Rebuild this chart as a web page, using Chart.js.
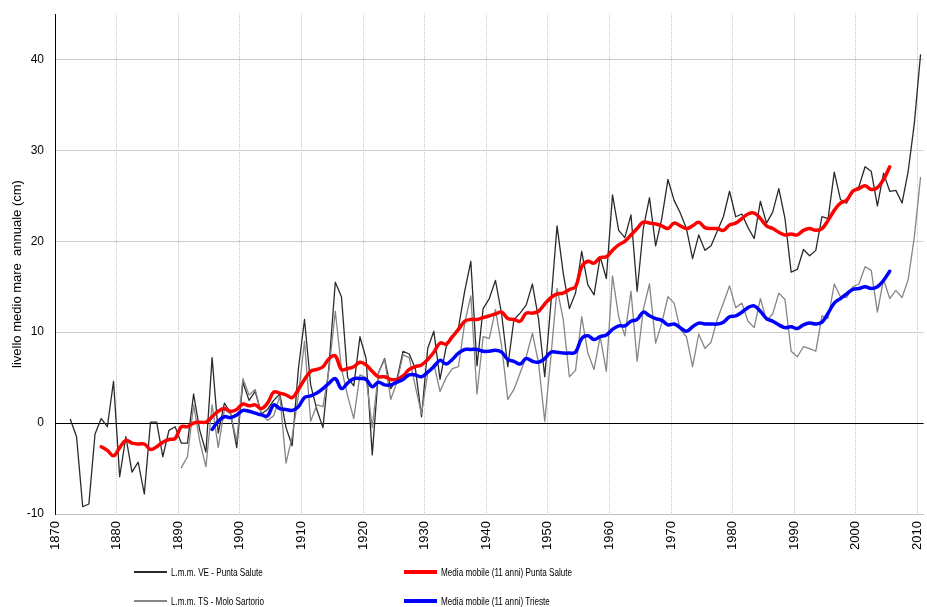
<!DOCTYPE html>
<html>
<head>
<meta charset="utf-8">
<script src="https://cdn.jsdelivr.net/npm/chart.js@4.4.1/dist/chart.umd.min.js"></script>
<style>
  body { margin: 0; background: #fff; font-family: "Liberation Sans", Arial, sans-serif; }
  #wrap { position: relative; width: 927px; height: 607px; }
  #chart { position: absolute; left: 0; top: 0; }
  .leg { position: absolute; height: 0; }
  .leg .ln { position: absolute; left: 0; width: 33px; }
  .leg .tx { position: absolute; left: 37px; top: -7px; font-size: 11px; line-height: 14px; color: #000;
             white-space: nowrap; transform: scaleX(0.74); transform-origin: left center; }
</style>
</head>
<body>
<div id="wrap">
  <canvas id="chart" width="927" height="607"></canvas>
  <div id="legend"></div>
</div>
<script>
// livello medio mare annuale (cm)
const veStart = 1872; // L.m.m. VE - Punta Salute
const veValues = [
  0.4, -1.5, -9.2, -8.9, -1.2, 0.5, -0.4, 4.6,                   // 1872-1879
  -5.9, -1.5, -5.4, -4.3, -7.8, 0.1, 0.1, -3.7, -0.8, -0.4,       // 1880s
  -2.2, -2.2, 3.2, -0.8, -3.2, 7.2, -1.1, 2.2, 1.1, -2.7,         // 1890s
  4.5, 2.5, 3.5, 1.0, 1.5, 2.5, 3.2, -0.5, -2.5, 5.9,             // 1900s
  11.4, 4.2, 1.5, -0.5, 6.5, 15.5, 13.9, 5.0, 4.1, 9.5,           // 1910s
  7.1, -3.5, 5.5, 7.1, 3.8, 4.8, 7.9, 7.6, 6.0, 0.7,              // 1920s
  8.2, 10.1, 4.8, 8.4, 9.5, 10.5, 14.5, 17.8, 6.3, 12.6,          // 1930s
  13.7, 15.7, 12.0, 6.2, 11.4, 12.1, 13.0, 15.3, 11.4, 5.1,       // 1940s
  13.2, 21.7, 16.5, 12.6, 14.3, 18.9, 15.2, 14.1, 18.3, 15.9,     // 1950s
  25.1, 21.2, 20.4, 22.9, 14.5, 21.4, 24.8, 19.5, 22.5, 26.8,     // 1960s
  24.5, 23.1, 21.4, 18.1, 20.7, 19.0, 19.5, 21.1, 22.7, 25.5,     // 1970s
  22.7, 23.0, 21.5, 20.3, 24.4, 22.0, 23.2, 25.8, 22.5, 16.6,     // 1980s
  16.9, 19.1, 18.4, 19.0, 22.7, 22.5, 27.6, 24.6, 24.2, 25.6,     // 1990s
  26.0, 28.2, 27.7, 23.9, 27.5, 25.5, 25.6, 24.2, 27.7, 33.0,     // 2000s
  40.5                                                            // 2010
];

const tsStart = 1890; // L.m.m. TS - Molo Sartorio
const tsValues = [
  -4.9, -3.7, 2.0, -2.0, -4.8, 2.0, -2.7, 1.5, 1.0, -2.0,         // 1890s
  4.9, 3.1, 3.7, 1.0, 0.3, 0.8, 3.0, -4.4, -1.5, 3.0,             // 1900s
  9.0, 0.2, 2.0, 1.8, 6.0, 12.3, 6.0, 3.0, 0.5, 5.3,              // 1910s
  5.0, -0.5, 5.5, 7.0, 2.6, 4.5, 7.5, 7.2, 4.0, 1.0,              // 1920s
  5.5, 6.5, 3.5, 5.0, 6.0, 6.2, 11.0, 14.0, 3.2, 9.5,             // 1930s
  9.3, 12.5, 8.5, 2.6, 3.7, 5.5, 7.3, 9.9, 6.6, 0.2,              // 1940s
  7.3, 14.8, 11.4, 5.1, 5.8, 11.7, 7.7, 5.9, 9.5, 5.7,            // 1950s
  16.2, 11.7, 9.6, 14.5, 6.8, 12.5, 15.3, 8.8, 11.0, 13.9,        // 1960s
  13.2, 10.3, 9.5, 6.2, 9.8, 8.2, 8.9, 11.4, 13.2, 15.1,          // 1970s
  12.7, 13.2, 11.2, 10.5, 13.7, 11.3, 12.0, 14.3, 13.6, 7.9,      // 1980s
  7.3, 8.4, 8.2, 7.9, 11.8, 11.5, 15.3, 13.9, 13.8, 15.0,         // 1990s
  15.3, 17.2, 16.8, 12.2, 15.8, 13.7, 14.6, 13.8, 15.8, 20.5,     // 2000s
  27.0                                                            // 2010
];

const maVeStart = 1877; // Media mobile (11 anni) Punta Salute
const maVeValues = [
  -2.6, -3.0, -3.6,                                               // 1877-1879
  -2.7, -1.9, -2.2, -2.3, -2.3, -2.9, -2.6, -2.1, -1.8, -1.7,     // 1880s
  -0.4, -0.4, 0.0, 0.1, 0.1, 0.7, 1.3, 1.6, 1.3, 1.5,             // 1890s
  2.1, 1.9, 2.0, 1.6, 2.2, 3.4, 3.3, 3.1, 2.8, 3.7,               // 1900s
  4.8, 5.7, 5.9, 6.2, 7.1, 7.4, 5.9, 6.0, 6.2, 6.7,               // 1910s
  6.4, 5.7, 5.1, 5.1, 4.8, 4.8, 5.2, 5.9, 6.2, 6.4,               // 1920s
  7.0, 7.8, 8.8, 8.7, 9.5, 10.3, 11.2, 11.4, 11.4, 11.6,          // 1930s
  11.8, 12.0, 12.2, 11.5, 11.4, 11.2, 12.1, 12.1, 12.3, 13.1,     // 1940s
  13.8, 14.2, 14.3, 14.7, 15.0, 17.2, 17.8, 17.6, 18.2, 18.3,     // 1950s
  19.0, 19.6, 20.0, 20.7, 21.4, 22.1, 22.0, 21.9, 21.7, 21.4,     // 1960s
  22.0, 21.7, 21.4, 21.7, 22.1, 21.5, 21.4, 21.4, 21.2, 21.8,     // 1970s
  22.0, 22.5, 23.0, 23.1, 22.5, 21.7, 21.4, 21.0, 20.7, 20.8,     // 1980s
  20.7, 21.2, 21.4, 21.2, 21.4, 22.3, 23.4, 24.2, 24.5, 25.5,     // 1990s
  25.8, 26.1, 25.7, 25.9, 26.8, 28.2                              // 2000-2005
];

const maTsStart = 1895; // Media mobile (11 anni) Trieste
const maTsValues = [
  -0.7, 0.2, 0.7, 0.6, 0.9,                                       // 1895-1899
  1.4, 1.3, 1.1, 0.9, 0.8, 2.0, 1.6, 1.5, 1.4, 1.8,               // 1900s
  2.8, 3.0, 3.3, 3.8, 4.4, 4.9, 3.8, 4.4, 4.9, 4.9,               // 1910s
  4.8, 4.0, 4.5, 4.2, 4.2, 4.5, 4.8, 5.3, 5.3, 5.1,               // 1920s
  5.6, 6.2, 6.9, 6.5, 7.0, 7.7, 8.1, 8.1, 8.1, 7.9,               // 1930s
  7.9, 8.0, 7.8, 7.0, 6.8, 6.5, 7.1, 6.8, 6.7, 7.1,               // 1940s
  7.8, 7.8, 7.7, 7.7, 7.8, 9.3, 9.6, 9.2, 9.5, 9.7,               // 1950s
  10.3, 10.7, 10.7, 11.2, 11.4, 12.2, 11.8, 11.5, 11.3, 10.8,     // 1960s
  10.9, 10.5, 10.1, 10.6, 11.0, 10.9, 10.9, 10.9, 11.1, 11.7,     // 1970s
  11.8, 12.2, 12.7, 12.9, 12.3, 11.5, 11.2, 10.8, 10.5, 10.6,     // 1980s
  10.4, 10.8, 11.0, 10.9, 11.1, 12.1, 13.2, 13.7, 14.2, 14.7,     // 1990s
  14.8, 15.0, 14.8, 15.0, 15.7, 16.7                              // 2000-2005
];

const yearTicks = [1870, 1880, 1890, 1900, 1910, 1920, 1930, 1940, 1950, 1960, 1970, 1980, 1990, 2000, 2010];
const valueTicks = [-10, 0, 10, 20, 30, 40];

const labels = {
  ve: 'L.m.m. VE - Punta Salute',
  ts: 'L.m.m. TS - Molo Sartorio',
  maVe: 'Media mobile (11 anni) Punta Salute',
  maTs: 'Media mobile (11 anni) Trieste'
};
const yTitle = 'livello medio mare  annuale (cm)';

function toPoints(start, values) {
  return values.map((v, i) => ({ x: start + i, y: v }));
}

const FONT = '"Liberation Sans", Arial, sans-serif';

// y title drawn by hand: the original sits a little below the axis centre
const yTitlePlugin = {
  id: 'yTitle',
  afterDraw(c) {
    const ctx = c.ctx;
    ctx.save();
    ctx.translate(17, (c.chartArea.top + c.chartArea.bottom) / 2 + 10);
    ctx.rotate(-Math.PI / 2);
    ctx.font = '13px ' + FONT;
    ctx.fillStyle = '#000';
    ctx.textAlign = 'center';
    ctx.textBaseline = 'middle';
    ctx.fillText(yTitle, 0, 0);
    ctx.restore();
  }
};

// years sit in the middle of each category slot, gridlines on the slot edges
const chart = new Chart(document.getElementById('chart'), {
  type: 'line',
  data: {
    datasets: [
      { label: labels.ve, data: toPoints(veStart, veValues), borderColor: '#2a2a2a', borderWidth: 1.3, tension: 0, order: 3 },
      { label: labels.ts, data: toPoints(tsStart, tsValues), borderColor: '#858585', borderWidth: 1.3, tension: 0, order: 2 },
      { label: labels.maVe, data: toPoints(maVeStart, maVeValues), borderColor: '#ff0000', borderWidth: 3.5, tension: 0.4, order: 1 },
      { label: labels.maTs, data: toPoints(maTsStart, maTsValues), borderColor: '#0000ff', borderWidth: 3.5, tension: 0.4, order: 0 }
    ]
  },
  options: {
    responsive: false,
    animation: false,
    events: [],
    layout: { padding: { top: 14, right: 3.4, left: 0, bottom: 0 } },
    elements: { point: { radius: 0 }, line: { borderCapStyle: 'round', borderJoinStyle: 'round' } },
    plugins: { legend: { display: false }, tooltip: { enabled: false } },
    scales: {
      x: {
        type: 'linear',
        min: yearTicks[0] - 0.5,
        max: yearTicks[yearTicks.length - 1] + 0.5,
        afterBuildTicks: (s) => { s.ticks = yearTicks.map(y => ({ value: y - 0.5 })); },
        afterFit: (s) => { s.height = 93; s.paddingLeft = 0; s.paddingRight = 0; },
        ticks: {
          autoSkip: false, minRotation: 90, maxRotation: 90, padding: 7,
          color: '#000', font: { family: FONT, size: 13 },
          callback: (v) => String(Math.round(v + 0.5))
        },
        grid: { color: '#c6c6c6', lineWidth: 1, drawTicks: false },
        border: { color: '#c0c0c0', width: 1, dash: [1, 1] }
      },
      y: {
        min: -10,
        max: 45,
        afterBuildTicks: (s) => { s.ticks = valueTicks.map(v => ({ value: v })); },
        afterFit: (s) => { s.width = 55; s.paddingTop = 0; s.paddingBottom = 0; },
        ticks: { padding: 11, color: '#000', font: { family: FONT, size: 12 } },
        grid: {
          drawTicks: false,
          lineWidth: 1,
          color: (c) => c.tick && c.tick.value === 0 ? '#000' : '#cccccc'
        },
        border: { color: '#000', width: 1 }
      }
    }
  },
  plugins: [yTitlePlugin]
});

// legend in two rows and two columns, as in the original
const legendLayout = [
  { ds: 0, left: 134, top: 572 },
  { ds: 2, left: 404, top: 572 },
  { ds: 1, left: 134, top: 601 },
  { ds: 3, left: 404, top: 601 }
];
const legendBox = document.getElementById('legend');
legendLayout.forEach(item => {
  const ds = chart.data.datasets[item.ds];
  const el = document.createElement('div');
  el.className = 'leg';
  el.style.left = item.left + 'px';
  el.style.top = item.top + 'px';
  const w = ds.borderWidth > 2 ? 3.5 : 1.5;
  el.innerHTML = '<div class="ln" style="top:' + (-w / 2) + 'px;height:' + w + 'px;background:' + ds.borderColor + '"></div>' +
    '<span class="tx">' + ds.label + '</span>';
  legendBox.appendChild(el);
});
</script>
</body>
</html>
